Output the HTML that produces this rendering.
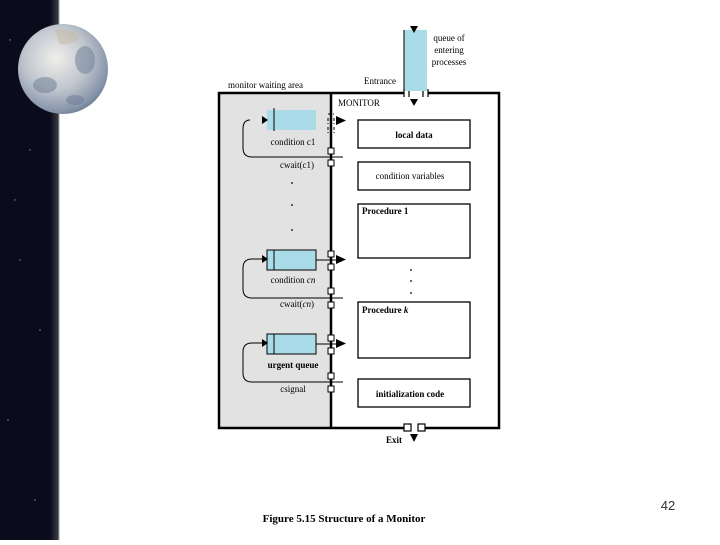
<!DOCTYPE html>
<html><head><style>
body{margin:0;width:720px;height:540px;overflow:hidden;background:#fff;font-family:"Liberation Serif",serif}
</style></head><body>
<svg width="720" height="540" viewBox="0 0 720 540" xmlns="http://www.w3.org/2000/svg" font-family="Liberation Serif, serif">
<defs>
<linearGradient id="sh" x1="0" x2="1"><stop offset="0" stop-color="#0a0c1c"/><stop offset="0.8" stop-color="#3a3a44"/><stop offset="1" stop-color="#fff"/></linearGradient>
<radialGradient id="earth" cx="0.42" cy="0.38" r="0.7"><stop offset="0" stop-color="#f0eeea"/><stop offset="0.5" stop-color="#c0c6ce"/><stop offset="0.85" stop-color="#8593a8"/><stop offset="1" stop-color="#5a6a82"/></radialGradient>
</defs>
<rect x="0" y="0" width="52" height="540" fill="#0a0c1c"/>
<rect x="50" y="0" width="10" height="540" fill="url(#sh)"/>
<g fill="#8890a0"><circle cx="10" cy="40" r="0.7"/><circle cx="30" cy="150" r="0.7"/><circle cx="20" cy="260" r="0.7"/><circle cx="40" cy="330" r="0.7"/><circle cx="8" cy="420" r="0.7"/><circle cx="35" cy="500" r="0.7"/><circle cx="15" cy="200" r="0.7"/></g>
<circle cx="63" cy="69" r="45" fill="url(#earth)"/>
<path d="M55 30 q15 -2 25 6 q-5 10 -20 8 z" fill="#c8b8a0" opacity="0.5"/>
<g fill="#6b7a92" opacity="0.5"><ellipse cx="85" cy="60" rx="10" ry="14"/><ellipse cx="45" cy="85" rx="12" ry="8"/><ellipse cx="75" cy="100" rx="9" ry="5"/></g>

<rect x="404" y="30" width="23" height="61" fill="#a9dbe8"/>
<line x1="404" y1="30" x2="404" y2="91" stroke="#000" stroke-width="1"/>
<path d="M410 26 h8 l-4 7 z" fill="#000"/>
<text x="449" y="41" font-size="9" text-anchor="middle">queue of</text>
<text x="449" y="53" font-size="9" text-anchor="middle">entering</text>
<text x="449" y="65" font-size="9" text-anchor="middle">processes</text>
<text x="228" y="88" font-size="9">monitor waiting area</text>
<text x="364" y="84" font-size="9">Entrance</text>

<rect x="219" y="93" width="112" height="335" fill="#e2e2e2"/>
<g stroke="#000" stroke-width="2.5" fill="none">
<path d="M404 93 H219 V428 H404"/>
<path d="M428 93 H499 V428 H425"/>
<line x1="331" y1="93" x2="331" y2="428"/>
</g>
<g stroke="#000" stroke-width="1.2" fill="#fff">
<line x1="404" y1="89" x2="404" y2="97"/><line x1="428" y1="89" x2="428" y2="97"/>
<path d="M409 91 v6 M423 91 v6" fill="none"/>
<rect x="404" y="424" width="7" height="7"/><rect x="418" y="424" width="7" height="7"/>
</g>
<path d="M410 99 h8 l-4 7 z" fill="#000"/>
<path d="M410 434 h8 l-4 8 z" fill="#000"/>
<text x="386" y="443" font-size="9" font-weight="bold">Exit</text>
<text x="338" y="106" font-size="9">MONITOR</text>

<g stroke="#000" stroke-width="1.3" fill="#fff">
<rect x="358" y="120" width="112" height="28"/>
<rect x="358" y="162" width="112" height="28"/>
<rect x="358" y="204" width="112" height="54"/>
<rect x="358" y="302" width="112" height="56"/>
<rect x="358" y="379" width="112" height="28"/>
</g>
<g font-size="9">
<text x="414" y="138" text-anchor="middle" font-weight="bold">local data</text>
<text x="410" y="179" text-anchor="middle">condition variables</text>
<text x="362" y="214" font-weight="bold">Procedure 1</text>
<text x="362" y="313" font-weight="bold">Procedure <tspan font-style="italic">k</tspan></text>
<text x="410" y="397" text-anchor="middle" font-weight="bold">initialization code</text>
</g>
<g fill="#000"><circle cx="411" cy="270" r="0.9"/><circle cx="411" cy="281" r="0.9"/><circle cx="411" cy="293" r="0.9"/>
<circle cx="292" cy="183" r="0.9"/><circle cx="292" cy="205" r="0.9"/><circle cx="292" cy="230" r="0.9"/></g>

<g stroke="#000" stroke-width="1">
<rect x="267" y="110" width="49" height="20" fill="#a9dbe8" stroke="none"/><line x1="274" y1="108" x2="274" y2="131"/>
<rect x="267" y="250" width="49" height="20" fill="#a9dbe8" stroke="#000"/><line x1="274" y1="250" x2="274" y2="270"/>
<rect x="267" y="334" width="49" height="20" fill="#a9dbe8" stroke="#000"/><line x1="274" y1="334" x2="274" y2="354"/>
</g>
<g stroke="#000" stroke-width="1" fill="none">
<path d="M343 157 H252 q-9 0 -9 -9 V129 q0 -9 7 -9"/>
<path d="M343 298 H252 q-9 0 -9 -9 V268 q0 -9 9 -9 H262"/>
<path d="M343 382 H252 q-9 0 -9 -9 V352 q0 -9 9 -9 H262"/>
<line x1="316" y1="260" x2="336" y2="260"/><line x1="316" y1="344" x2="336" y2="344"/>
</g>
<g fill="#000">
<path d="M262 116 l6 4 l-6 4 z"/><path d="M262 255 l6 4 l-6 4 z"/><path d="M262 339 l6 4 l-6 4 z"/>
<path d="M336 116 l10 4.5 l-10 4.5 z"/><path d="M336 255 l10 4.5 l-10 4.5 z"/><path d="M336 339 l10 4.5 l-10 4.5 z"/>
</g>
<g stroke="#000" stroke-width="1" fill="#fff">
<path d="M328 114 h6 M328 118 v6 M334 118 v6 M328 127 v6 M334 127 v6" fill="none" stroke-dasharray="3 2"/>
<rect x="328" y="148" width="6" height="6"/><rect x="328" y="160" width="6" height="6"/>
<rect x="328" y="251" width="6" height="6"/><rect x="328" y="264" width="6" height="6"/>
<rect x="328" y="288" width="6" height="6"/><rect x="328" y="302" width="6" height="6"/>
<rect x="328" y="335" width="6" height="6"/><rect x="328" y="348" width="6" height="6"/>
<rect x="328" y="373" width="6" height="6"/><rect x="328" y="386" width="6" height="6"/>
</g>
<g font-size="9" text-anchor="middle">
<text x="293" y="145">condition c1</text>
<text x="297" y="168">cwait(c1)</text>
<text x="293" y="283">condition <tspan font-style="italic">cn</tspan></text>
<text x="297" y="307">cwait(<tspan font-style="italic">cn</tspan>)</text>
<text x="293" y="368" font-weight="bold">urgent queue</text>
<text x="293" y="392">csignal</text>
</g>
<text x="344" y="522" font-size="11" font-weight="bold" text-anchor="middle">Figure 5.15  Structure of a Monitor</text>
<text x="668" y="510" font-size="13" font-family="Liberation Sans, sans-serif" text-anchor="middle" fill="#333">42</text>
</svg>
</body></html>
